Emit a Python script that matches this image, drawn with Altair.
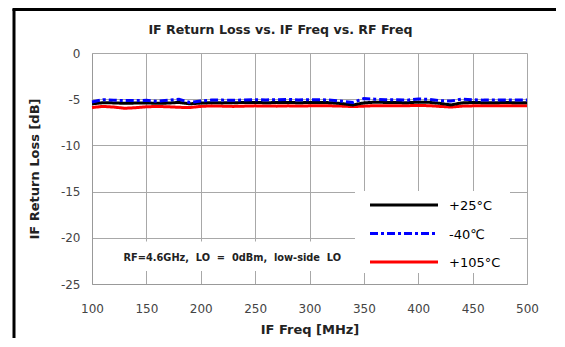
import altair as alt
import pandas as pd

freq = list(range(100, 501, 10))
series_names = ["+25°C", "-40℃", "+105°C"]
colors = ["#000000", "#0000FF", "#FF0000"]
dashes = [[1, 0], [8, 3, 3, 3], [1, 0]]

black_25 = [-5.50, -5.38, -5.40, -5.45, -5.42, -5.40, -5.45, -5.42, -5.35, -5.50,
            -5.42, -5.38, -5.40, -5.38, -5.36, -5.35, -5.38, -5.36, -5.35, -5.38,
            -5.36, -5.35, -5.38, -5.48, -5.62, -5.40, -5.32, -5.35, -5.36, -5.38,
            -5.32, -5.34, -5.45, -5.62, -5.40, -5.35, -5.38, -5.38, -5.36, -5.38,
            -5.38]
blue_m40 = [-5.30, -5.05, -5.10, -5.15, -5.15, -5.12, -5.22, -5.12, -5.02, -5.35,
            -5.20, -5.10, -5.10, -5.12, -5.08, -5.05, -5.08, -5.05, -5.02, -5.08,
            -5.05, -5.05, -5.10, -5.22, -5.35, -4.92, -5.00, -5.05, -5.05, -5.10,
            -4.98, -5.02, -5.15, -5.20, -5.00, -5.05, -5.10, -5.10, -5.08, -5.10,
            -5.10]
red_105 = [-5.90, -5.78, -5.85, -5.98, -5.92, -5.82, -5.78, -5.82, -5.88, -5.90,
           -5.78, -5.72, -5.75, -5.78, -5.75, -5.72, -5.74, -5.75, -5.72, -5.74,
           -5.72, -5.70, -5.72, -5.75, -5.80, -5.75, -5.70, -5.70, -5.72, -5.70,
           -5.68, -5.70, -5.78, -5.85, -5.75, -5.72, -5.72, -5.72, -5.70, -5.72,
           -5.72]

x_ticks = list(range(100, 501, 50))
y_ticks = [-25, -20, -15, -10, -5, 0]
title_text = "IF Return Loss vs. IF Freq vs. RF Freq"
note = "RF=4.6GHz,\u00a0 LO\u00a0 =\u00a0 0dBm,\u00a0 low-side\u00a0 LO"

rows = []
for name, vals in zip(series_names, [black_25, blue_m40, red_105]):
    for f, v in zip(freq, vals):
        rows.append({"freq": f, "rl": v, "series": name})
df = pd.DataFrame(rows)

FONT = "DejaVu Sans"
xs = alt.Scale(domain=[100, 500], nice=False, zero=False)
ys = alt.Scale(domain=[-25, 0], nice=False, zero=False)

x_enc = alt.X("freq:Q", scale=xs,
              axis=alt.Axis(values=x_ticks, title="IF Freq [MHz]", grid=True, labelFlush=False,
                            ticks=False, labelPadding=19, titlePadding=9))
y_enc = alt.Y("rl:Q", scale=ys,
              axis=alt.Axis(values=y_ticks, title="IF Return Loss [dB]", grid=True, labelFlush=False,
                            ticks=False, labelPadding=12, titlePadding=19,
                            labelExpr="'' + datum.value"))

color_enc = alt.Color("series:N", scale=alt.Scale(domain=series_names, range=colors), legend=None)
dash_enc = alt.StrokeDash("series:N", scale=alt.Scale(domain=series_names, range=dashes), legend=None)

one = pd.DataFrame({"a": [0]})
base = alt.Chart(df)
layers = []
# white box behind the note
layers.append(alt.Chart(one).mark_rect(color="white").encode(
    x=alt.X(datum=105, scale=xs), x2=alt.datum(345),
    y=alt.Y(datum=-20.4, scale=ys), y2=alt.datum(-23.6)))
for name in ["+105°C", "+25°C", "-40℃"]:
    layers.append(base.transform_filter(alt.datum.series == name).mark_line(strokeWidth=3).encode(
        x=x_enc, y=y_enc, color=color_enc, strokeDash=dash_enc))
layers.append(alt.Chart(pd.DataFrame({"t": [note]})).mark_text(
    font=FONT, fontSize=9.8, fontWeight="bold", color="#222").encode(
    x=alt.X(datum=229, scale=xs), y=alt.Y(datum=-22.2, scale=ys), text="t:N"))

# legend (drawn by hand, white box covering the grid)
leg = pd.DataFrame({"series": series_names, "row": [0, 1, 2]})
layers.append(alt.Chart(one).mark_rect(color="white").encode(
    x=alt.value(263), x2=alt.value(418), y=alt.value(138), y2=alt.value(220)))
for i, name in enumerate(series_names):
    yy = 152 + i * 28.5
    layers.append(alt.Chart(leg).transform_filter(alt.datum.series == name).mark_rule(strokeWidth=3).encode(
        x=alt.value(278), x2=alt.value(346), y=alt.value(yy), color=color_enc, strokeDash=dash_enc))
    layers.append(alt.Chart(leg).transform_filter(alt.datum.series == name).mark_text(
        font=FONT, fontSize=13, align="left", baseline="middle", color="#000").encode(
        x=alt.value(357), y=alt.value(yy + 1), text="series:N"))

# chart title
layers.append(alt.Chart(pd.DataFrame({"t": [title_text]})).mark_text(
    font=FONT, fontSize=12.6, fontWeight="bold", color="#222", baseline="middle").encode(
    x=alt.value(188.5), y=alt.value(-23), text="t:N"))

# outer frame (left and top edges of the original figure border)
layers.append(alt.Chart(one).mark_rule(color="black", strokeWidth=3).encode(
    x=alt.value(-78), y=alt.value(-44), y2=alt.value(300)))
layers.append(alt.Chart(one).mark_rule(color="black", strokeWidth=3).encode(
    x=alt.value(-79.5), x2=alt.value(480), y=alt.value(-43.5)))

chart = alt.layer(*layers).properties(
    width=435, height=231,
    autosize=alt.AutoSizeParams(type="none"),
    padding={"left": 84, "top": 45, "right": 29, "bottom": 54},
).configure_view(stroke=None).configure_axis(
    domainColor="#999", gridColor="#a8a8a8", gridWidth=1, labelFont=FONT, labelFontSize=12,
    labelColor="#444", titleFont=FONT, titleFontSize=13, titleFontWeight="bold", titleColor="#222",
)

chart.save("out.html", embed_options={"renderer": "svg", "actions": False})
